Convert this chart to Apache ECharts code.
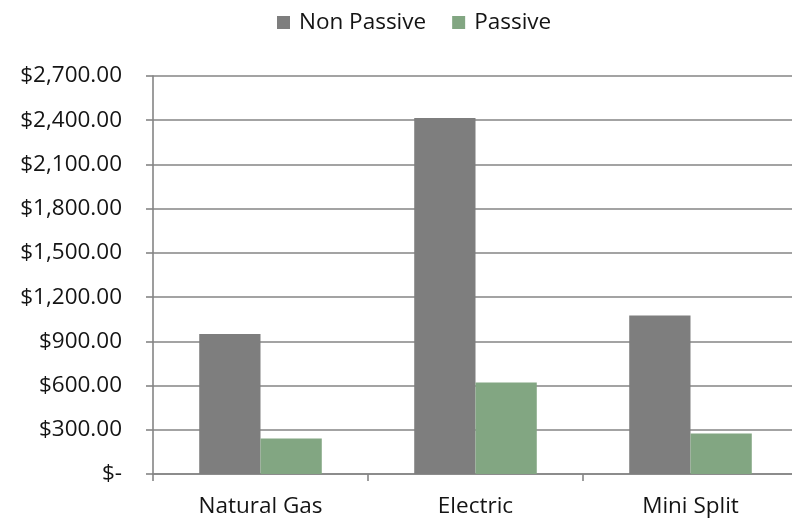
<!DOCTYPE html>
<html>
<head>
<meta charset="utf-8">
<script src="https://cdn.jsdelivr.net/npm/echarts@6/dist/echarts.min.js"></script>
<style>
  html, body { margin: 0; padding: 0; background: #ffffff; }
  #chart { width: 792px; height: 521px; }
</style>
</head>
<body>
<div id="chart"></div>
<script>
// Annual heating cost by system type
const categories = ['Natural Gas', 'Electric', 'Mini Split'];
const nonPassive = [950, 2415, 1075];
const passive = [240, 620, 275];
const yMin = 0;
const yMax = 2700;
const yStep = 300;

const FONT = '"Open Sans", Lato, sans-serif';
const INK = '#141414';
const RULE = '#858585';
const SIZE = 22.5;

function money(v) {
  if (v === 0) return '$-';
  return '$' + v.toLocaleString('en-US', { minimumFractionDigits: 2, maximumFractionDigits: 2 });
}

const chart = echarts.init(document.getElementById('chart'), null, { renderer: 'canvas' });
chart.setOption({
  backgroundColor: '#ffffff',
  animation: false,
  textStyle: { fontFamily: FONT },
  legend: {
    top: 6,
    left: 272,
    itemWidth: 13,
    itemHeight: 13,
    itemGap: 26,
    icon: 'rect',
    textStyle: { fontFamily: FONT, fontSize: SIZE, color: INK, padding: [0, 0, 0, 4] },
    data: ['Non Passive', 'Passive']
  },
  grid: { left: 153, top: 76, width: 645, height: 398, containLabel: false, outerBoundsMode: 'none' },
  xAxis: {
    type: 'category',
    data: categories,
    axisLine: { lineStyle: { color: RULE, width: 1.6 } },
    axisTick: { show: true, length: 7, lineStyle: { color: RULE, width: 1.6 } },
    axisLabel: { fontFamily: FONT, fontSize: SIZE, color: INK, margin: 21 }
  },
  yAxis: {
    type: 'value',
    min: yMin,
    max: yMax,
    interval: yStep,
    axisLine: { show: true, lineStyle: { color: RULE, width: 1.6 } },
    axisTick: { show: true, length: 7, lineStyle: { color: RULE, width: 1.6 } },
    splitLine: { lineStyle: { color: RULE, width: 1.6 } },
    axisLabel: { fontFamily: FONT, fontSize: SIZE, color: INK, margin: 31, formatter: money }
  },
  series: [
    {
      name: 'Non Passive',
      type: 'bar',
      data: nonPassive,
      barGap: '0%',
      barCategoryGap: '43%',
      itemStyle: { color: '#7e7e7e' }
    },
    {
      name: 'Passive',
      type: 'bar',
      data: passive,
      itemStyle: { color: '#82a682' }
    }
  ]
});
</script>
</body>
</html>
